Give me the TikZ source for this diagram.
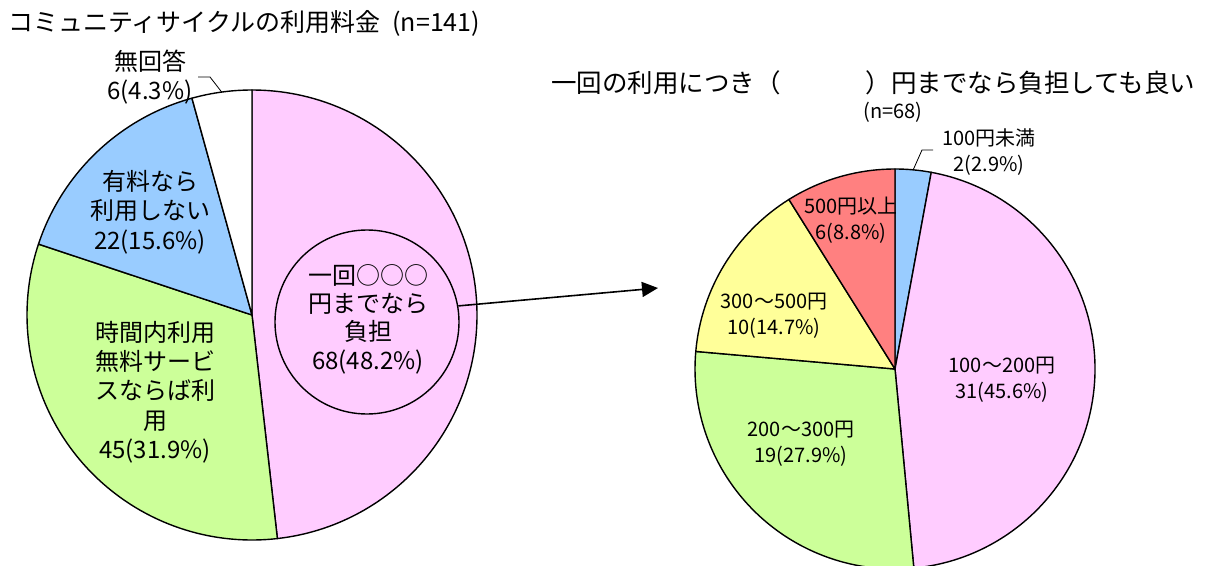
\documentclass[tikz,border=0pt]{standalone}
\usepackage{fontspec}
\setmainfont{Noto Sans CJK JP}
\usetikzlibrary{arrows.meta,calc}
\definecolor{pinkc}{HTML}{FFCCFF}
\definecolor{greenc}{HTML}{CCFF99}
\definecolor{bluec}{HTML}{99CCFF}
\definecolor{yellowc}{HTML}{FFFF99}
\definecolor{redc}{HTML}{FF8080}
\begin{document}
\begin{tikzpicture}[x=1pt,y=1pt,
  sl/.style={draw=black, line width=1.4pt, line join=round},
  lbl/.style={inner sep=0pt, align=center, font=\fontsize{24}{29.3}\selectfont},
  lbls/.style={inner sep=0pt, align=center, font=\fontsize{20}{26}\selectfont},
  ttl/.style={inner sep=0pt, font=\fontsize{25}{30}\selectfont},
  lead/.style={draw=black, line width=0.8pt},
  arr/.style={draw=black, line width=1.6pt, -{Triangle[length=16pt,width=15pt]}}]
\fill[white] (0,-565) rectangle (1223,0);
\useasboundingbox (0,-565) rectangle (1223,0);

% titles
\node[ttl, anchor=west] (t1) at (8,-23) {コミュニティサイクルの利用料金\hspace{12pt}(n=141)};
\node[ttl, anchor=west, font=\fontsize{25.5}{30}\selectfont] (t2) at (551,-83) {一回の利用につき（\hspace{85pt}）円までなら負担しても良い};
\node[inner sep=0pt, font=\fontsize{20}{22}\selectfont] (n68) at (893,-112) {(n=68)};

% left pie
\coordinate (L) at (252,-315);
\path[sl,fill=pinkc] (L) -- ++(90:225pt) arc[start angle=90,end angle=-83.52,radius=225pt] -- cycle;
\path[sl,fill=greenc] (L) -- ++(-83.52:225pt) arc[start angle=-83.52,end angle=-198.36,radius=225pt] -- cycle;
\path[sl,fill=bluec] (L) -- ++(-198.36:225pt) arc[start angle=-198.36,end angle=-254.52,radius=225pt] -- cycle;
\path[sl,fill=white] (L) -- ++(-254.52:225pt) arc[start angle=-254.52,end angle=-270,radius=225pt] -- cycle;

\node[sl, circle, minimum size=184pt, inner sep=0pt] (inner) at (367,-322) {};
\node[lbl, font=\fontsize{24}{28.4}\selectfont] (innertxt) at (368,-319) {一回○○○\\円までなら\\負担\\68(48.2\%)};
\node[lbl] (bluetxt) at (150,-212) {有料なら\\利用しない\\22(15.6\%)};
\node[lbl] (greentxt) at (155,-392) {時間内利用\\無料サービ\\スならば利\\用\\45(31.9\%)};
\node[lbl, font=\fontsize{24}{29}\selectfont] (whitetxt) at (150,-77) {無回答\\6(4.3\%)};

\coordinate (wpt) at ($(L)+(97.74:225pt)$);
\coordinate (w1) at (210,-77);
\coordinate (w2) at (198,-77);

% right pie
\coordinate (R) at (895,-369);
\path[sl,fill=bluec] (R) -- ++(90:200pt) arc[start angle=90,end angle=79.56,radius=200pt] -- cycle;
\path[sl,fill=pinkc] (R) -- ++(79.56:200pt) arc[start angle=79.56,end angle=-84.6,radius=200pt] -- cycle;
\path[sl,fill=greenc] (R) -- ++(-84.6:200pt) arc[start angle=-84.6,end angle=-185.04,radius=200pt] -- cycle;
\path[sl,fill=yellowc] (R) -- ++(-185.04:200pt) arc[start angle=-185.04,end angle=-237.96,radius=200pt] -- cycle;
\path[sl,fill=redc] (R) -- ++(-237.96:200pt) arc[start angle=-237.96,end angle=-270,radius=200pt] -- cycle;

\node[lbls] (r1) at (989,-152) {100円未満\\2(2.9\%)};
\node[lbls] (r2) at (1002,-380) {100～200円\\31(45.6\%)};
\node[lbls] (r3) at (801,-444) {200～300円\\19(27.9\%)};
\node[lbls] (r4) at (774,-316) {300～500円\\10(14.7\%)};
\node[lbls] (r5) at (851,-220) {500円以上\\6(8.8\%)};

\coordinate (bpt) at (913.2,-169.8);
\coordinate (b1) at (922,-150);
\coordinate (b2) at (933,-150);

% leaders
\draw[lead] (wpt) -- (w1) -- (w2);
\draw[lead] (bpt) -- (b1) -- (b2);

% arrow
\coordinate (arrowtip) at (658,-288);
\draw[arr] (inner.10) -- (arrowtip);
\end{tikzpicture}
\end{document}
